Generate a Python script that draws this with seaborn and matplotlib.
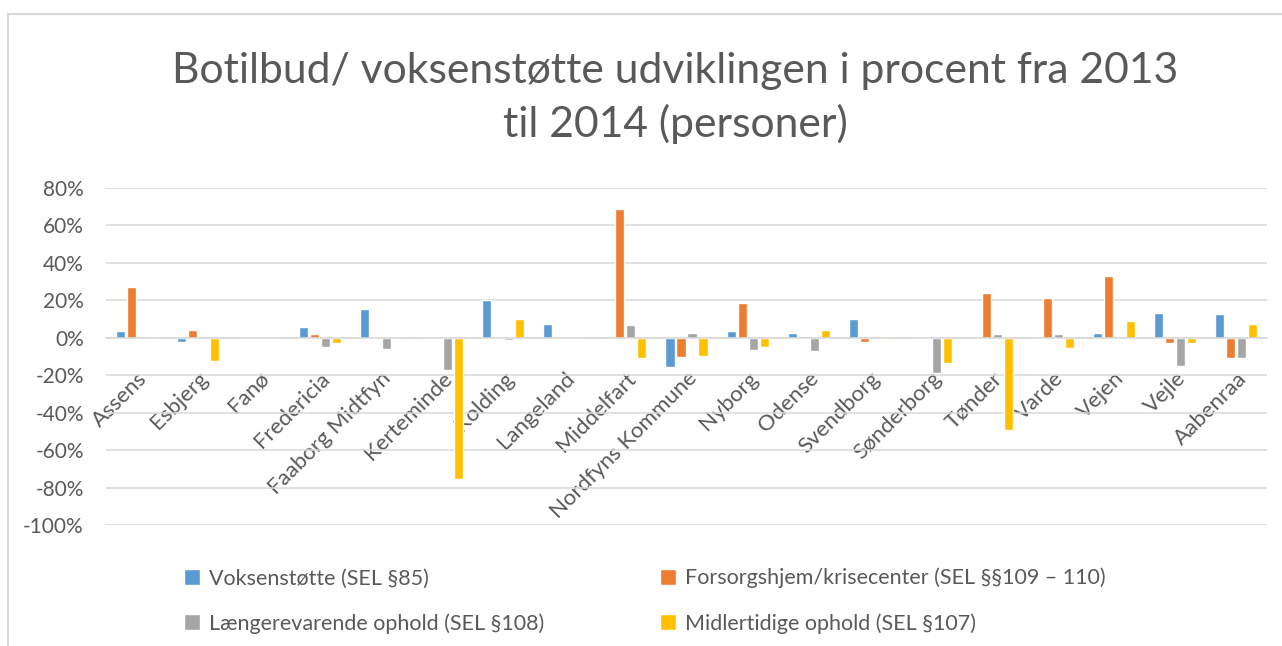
import matplotlib
matplotlib.use('Agg')
import matplotlib.pyplot as plt
import matplotlib.patches as mpatches
from matplotlib.ticker import FuncFormatter, MultipleLocator
import pandas as pd
import seaborn as sns

# Kommuner
categories = ['Assens', 'Esbjerg', 'Fanø', 'Fredericia', 'Faaborg Midtfyn', 'Kerteminde', 'Kolding',
              'Langeland', 'Middelfart', 'Nordfyns Kommune', 'Nyborg', 'Odense', 'Svendborg',
              'Sønderborg', 'Tønder', 'Varde', 'Vejen', 'Vejle', 'Aabenraa']

series_names = ['Voksenstøtte (SEL §85)', 'Forsorgshjem/krisecenter (SEL §§109 – 110)',
                'Længerevarende ophold (SEL §108)', 'Midlertidige ophold (SEL §107)']

# udvikling i procent 2013 -> 2014
voksenstotte = [3.4, -2.5, 0, 5.5, 15.6, 0, 20.4, 7.1, 0.7, -15.8, 3.4, 2.3, 9.8, 0, 0, 0, 2.3, 13.5, 12.9]
forsorgshjem = [27.3, 3.9, 0, 1.8, 0, 0, 0, 0, 68.8, -10.5, 18.8, 0.7, -2.5, 0, 24.1, 21.5, 33.2, -3.0, -11.0]
laengerevarende = [0.7, 0.7, 0, -5.1, -6.2, -17.4, -1.2, 0, 6.6, 2.8, -6.7, -7.3, 0.7, -19.0, 1.8, 1.8, 0, -15.2, -11.0]
midlertidige = [0, -12.6, 0, -3.0, 0, -75.2, 9.8, 0, -11.0, -9.9, -5.1, 4.4, 1.2, -13.7, -49.1, -5.7, 9.2, -3.0, 7.1]

colors = ['#5B9BD5', '#ED7D31', '#A5A5A5', '#FFC000']
TEXT_COLOR = '#595959'
GRID_COLOR = '#D9D9D9'

# long format for seaborn
rows = []
for name, values in zip(series_names, [voksenstotte, forsorgshjem, laengerevarende, midlertidige]):
    for cat, val in zip(categories, values):
        rows.append({'Kommune': cat, 'Serie': name, 'Procent': val})
df = pd.DataFrame(rows)

sns.set_theme(style='white')
plt.rcParams['font.family'] = ['Lato', 'DejaVu Sans']

fig = plt.figure(figsize=(12.82, 6.46), dpi=100)
ax = fig.add_axes([106 / 1282, 1 - 525 / 646, (1267 - 106) / 1282, (525 - 188) / 646])

sns.barplot(data=df, x='Kommune', y='Procent', hue='Serie', order=categories, hue_order=series_names,
            palette=colors, width=0.72, gap=0.18, saturation=1, ax=ax, errorbar=None, legend=True)

ax.set_ylim(-100, 80)
ax.yaxis.set_major_locator(MultipleLocator(20))
ax.yaxis.set_major_formatter(FuncFormatter(lambda v, p: f'{v:.0f}%'))
ax.grid(axis='y', color=GRID_COLOR, linewidth=1.1)
ax.set_axisbelow(True)
ax.set_xlabel('')
ax.set_ylabel('')

for side in ['top', 'right', 'left']:
    ax.spines[side].set_visible(False)
ax.spines['bottom'].set_position(('data', 0))
ax.spines['bottom'].set_color(GRID_COLOR)
ax.spines['bottom'].set_linewidth(1.1)

ax.tick_params(axis='y', length=0, pad=16, labelsize=15, labelcolor=TEXT_COLOR)
ax.tick_params(axis='x', length=0, pad=22, labelsize=16, labelcolor=TEXT_COLOR)
plt.setp(ax.get_xticklabels(), rotation=45, ha='right', rotation_mode='anchor')

# legend below the chart, filled row by row like in Excel
handles, labels = ax.get_legend_handles_labels()
ax.legend_.remove()
order = [0, 2, 1, 3]
fig.legend([handles[i] for i in order], [labels[i] for i in order], ncol=2, loc='center',
           bbox_to_anchor=(0.503, 0.07), frameon=False,
           fontsize=15.5, labelcolor=TEXT_COLOR, handlelength=0.75, handleheight=0.75, handletextpad=0.4,
           columnspacing=5.4, labelspacing=1.15)

# title
fig.text(0.527, 0.848, 'Botilbud/ voksenstøtte udviklingen i procent fra 2013\ntil 2014 (personer)',
         ha='center', va='center', fontsize=30.7, color=TEXT_COLOR, linespacing=1.42)

# chart frame
fig.patches.append(mpatches.Rectangle((8 / 1282, -0.1), 1.2, 1.1 - 14 / 646, transform=fig.transFigure,
                                      fill=False, edgecolor=GRID_COLOR, linewidth=1.5))

fig.savefig('out.png', dpi=100)
